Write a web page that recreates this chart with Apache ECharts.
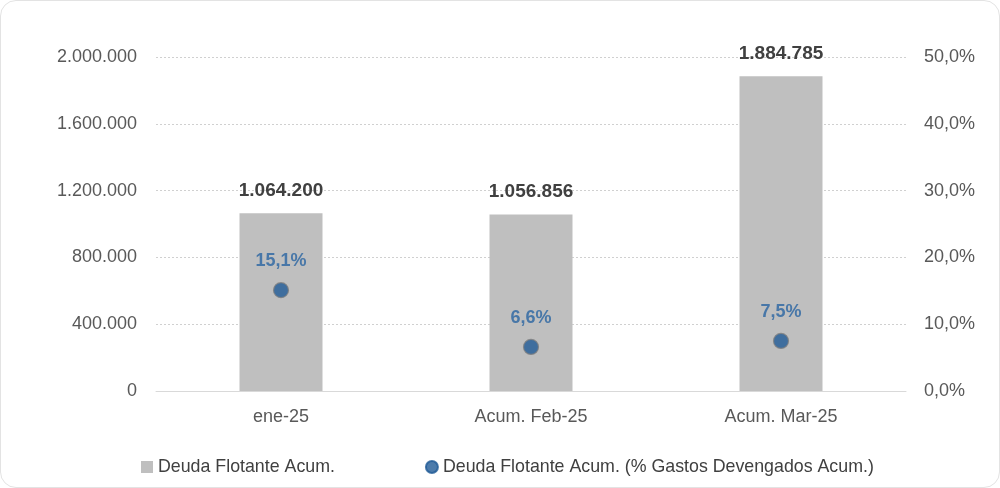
<!DOCTYPE html>
<html><head><meta charset="utf-8">
<script src="https://cdn.jsdelivr.net/npm/echarts@6/dist/echarts.min.js"></script>
<style>
html,body{margin:0;padding:0;background:#fff;}
#wrap{position:absolute;left:0;top:0;width:998px;height:486px;border:1px solid #e3e3e3;border-radius:16px;overflow:hidden;}
#c{width:1000px;height:488px;position:absolute;left:-1px;top:-1px;}
</style></head>
<body><div id="wrap"><div id="c"></div></div>
<script>
const categories = ['ene-25', 'Acum. Feb-25', 'Acum. Mar-25'];
const deudaValues = [1064200, 1056856, 1884785];
const pctValues = [15.1, 6.6, 7.5];

function fmtThousands(v){
  return String(Math.round(v)).replace(/\B(?=(\d{3})+(?!\d))/g, '.');
}
const chart = echarts.init(document.getElementById('c'));
const font = '"Liberation Sans", Arial, sans-serif';
chart.setOption({
  animation:false,
  textStyle:{fontFamily:font},
  grid:{left:156,right:94,top:57,bottom:97},
  legend:{
    top:453, left:136, itemGap:90,
    itemWidth:12, itemHeight:12,
    textStyle:{fontSize:17.8,color:'#404040',fontFamily:font},
    data:[
      {name:'Deuda Flotante Acum.', icon:'rect', itemStyle:{color:'#bfbfbf'}},
      {name:'Deuda Flotante Acum. (% Gastos Devengados Acum.)', icon:'circle', itemStyle:{color:'#1f5a96', borderColor:'#1f5a96'}}
    ]
  },
  xAxis:{
    type:'category', data:categories,
    axisLine:{lineStyle:{color:'#d9d9d9',width:1}},
    axisTick:{show:false},
    axisLabel:{fontSize:18,color:'#595959',margin:17,fontFamily:font}
  },
  yAxis:[
    {type:'value', min:0, max:2000000, interval:400000,
     axisLine:{show:false}, axisTick:{show:false},
     splitLine:{lineStyle:{color:'#d0d0d0',type:[2,2],width:1}},
     axisLabel:{fontSize:18,color:'#595959',margin:19,formatter:v=>fmtThousands(v),fontFamily:font}},
    {type:'value', min:0, max:50, interval:10,
     axisLine:{show:false}, axisTick:{show:false}, splitLine:{show:false},
     axisLabel:{fontSize:18,color:'#595959',margin:18,formatter:v=>v.toFixed(1).replace('.',',')+'%',fontFamily:font}}
  ],
  series:[
    {name:'Deuda Flotante Acum.', type:'bar', data:deudaValues, barWidth:83,
     itemStyle:{color:'#bfbfbf'},
     label:{show:true,position:'top',distance:13,fontSize:19,fontWeight:'bold',color:'#404040',
       formatter:p=>fmtThousands(p.value),fontFamily:font}},
    {name:'Deuda Flotante Acum. (% Gastos Devengados Acum.)', type:'scatter', yAxisIndex:1, data:pctValues,
     symbol:'circle', symbolSize:15,
     itemStyle:{color:'#1f5a96',borderColor:'#7f7f7f',borderWidth:1.2},
     label:{show:true,position:'top',distance:12,fontSize:18,fontWeight:'bold',color:'#2a65a3',
       formatter:p=>p.value.toFixed(1).replace('.',',')+'%',fontFamily:font}}
  ]
});
</script></body></html>
